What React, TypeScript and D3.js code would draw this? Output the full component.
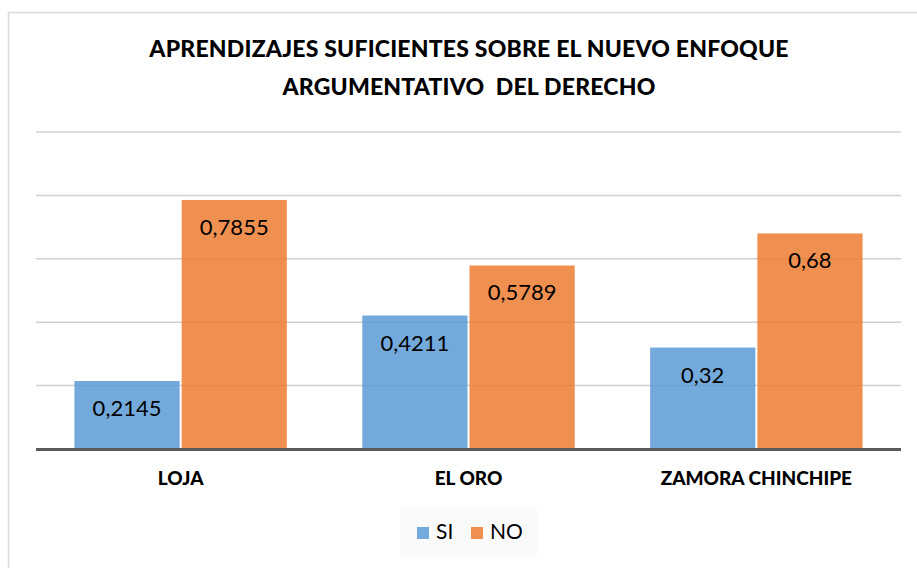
import React, { useEffect, useRef } from 'react';
import * as d3 from 'd3';

const categories = ['LOJA', 'EL ORO', 'ZAMORA CHINCHIPE'];
const seriesNames = ['SI', 'NO'];
const siValues = [0.2145, 0.4211, 0.32];
const noValues = [0.7855, 0.5789, 0.68];
const valueLabels = [
  ['0,2145', '0,7855'],
  ['0,4211', '0,5789'],
  ['0,32', '0,68'],
];
const yTicks = [0, 0.2, 0.4, 0.6, 0.8, 1];
const titleLines = ['APRENDIZAJES SUFICIENTES SOBRE EL NUEVO ENFOQUE', 'ARGUMENTATIVO  DEL DERECHO'];
const colors = ['#5B9BD5', '#ED7D31'];

const W = 917;
const H = 568;
const FONT = 'Lato, "Open Sans", sans-serif';

const App: React.FC = () => {
  const svgRef = useRef<SVGSVGElement>(null);

  useEffect(() => {
    if (!svgRef.current) return;
    const svg = d3.select(svgRef.current);
    svg.selectAll('*').remove();

    const margin = { top: 132, right: 16, bottom: 119, left: 36 };
    const innerWidth = W - margin.left - margin.right;
    const innerHeight = H - margin.top - margin.bottom;

    // chart frame (cropped on the right/bottom)
    svg.append('rect')
      .attr('x', 8.5).attr('y', 12.5)
      .attr('width', W + 20).attr('height', H + 20)
      .attr('fill', '#fff')
      .attr('stroke', '#d9d9d9')
      .attr('stroke-width', 1.5);

    // title
    const title = svg.append('text')
      .attr('text-anchor', 'middle')
      .style('font-family', FONT)
      .style('font-weight', 900)
      .style('font-size', '23px')
      .style('letter-spacing', '0.2px')
      .style('fill', '#000');
    titleLines.forEach((line, i) => {
      title.append('tspan')
        .attr('x', 469)
        .attr('y', 57 + i * 37.5)
        .attr('xml:space', 'preserve')
        .text(line);
    });

    const g = svg.append('g')
      .attr('transform', `translate(${margin.left},${margin.top})`);

    const x0 = d3.scaleBand<string>()
      .domain(categories)
      .range([0, innerWidth])
      .paddingInner(0.255)
      .paddingOuter(0.13);

    const x1 = d3.scaleBand<string>()
      .domain(seriesNames)
      .range([0, x0.bandwidth()])
      .padding(0);

    const y = d3.scaleLinear()
      .domain([0, 1])
      .range([innerHeight, 0]);

    // gridlines
    g.append('g')
      .selectAll('line')
      .data(yTicks.slice(1))
      .enter().append('line')
      .attr('x1', 0)
      .attr('x2', innerWidth)
      .attr('y1', d => y(d))
      .attr('y2', d => y(d))
      .attr('stroke', '#d0d0d0')
      .attr('stroke-width', 1.5);

    const rows = categories.map((c, i) => ({
      cat: c,
      vals: [siValues[i], noValues[i]],
      labels: valueLabels[i],
    }));

    const groups = g.selectAll('.grp')
      .data(rows)
      .enter().append('g')
      .attr('class', 'grp')
      .attr('transform', d => `translate(${x0(d.cat)},0)`);

    const bars = groups.selectAll('.bar')
      .data(d => d.vals.map((v, j) => ({ key: seriesNames[j], value: v, label: d.labels[j], j })))
      .enter();

    bars.append('rect')
      .attr('class', 'bar')
      .attr('x', d => x1(d.key)! + 1)
      .attr('y', d => y(d.value))
      .attr('width', x1.bandwidth() - 2)
      .attr('height', d => innerHeight - y(d.value))
      .attr('fill', d => colors[d.j])
      .attr('fill-opacity', 0.85);

    bars.append('text')
      .attr('x', d => x1(d.key)! + x1.bandwidth() / 2)
      .attr('y', d => y(d.value) + 35)
      .attr('text-anchor', 'middle')
      .style('font-family', FONT)
      .style('font-size', '22px')
      .style('fill', '#000')
      .text(d => d.label);

    // baseline axis
    g.append('line')
      .attr('x1', 0)
      .attr('x2', innerWidth)
      .attr('y1', innerHeight + 0.5)
      .attr('y2', innerHeight + 0.5)
      .attr('stroke', '#595959')
      .attr('stroke-width', 3);

    // category labels
    g.selectAll('.cat')
      .data(categories)
      .enter().append('text')
      .attr('class', 'cat')
      .attr('x', d => x0(d)! + x0.bandwidth() / 2)
      .attr('y', innerHeight + 36)
      .attr('text-anchor', 'middle')
      .style('font-family', FONT)
      .style('font-weight', 900)
      .style('font-size', '19px')
      .style('fill', '#000')
      .text(d => d);

    // legend
    const legend = svg.append('g');
    legend.append('rect')
      .attr('x', 400).attr('y', 508)
      .attr('width', 137).attr('height', 48)
      .attr('fill', '#fafafa');
    const legendX = [417, 471];
    seriesNames.forEach((s, i) => {
      legend.append('rect')
        .attr('x', legendX[i]).attr('y', 527)
        .attr('width', 12).attr('height', 12)
        .attr('fill', colors[i])
        .attr('fill-opacity', 0.85);
      legend.append('text')
        .attr('x', legendX[i] + 19)
        .attr('y', 539)
        .style('font-family', FONT)
        .style('font-size', '21px')
        .style('fill', '#000')
        .text(s);
    });
  }, []);

  return (
    <svg
      ref={svgRef}
      width={W}
      height={H}
      style={{ position: 'absolute', left: 0, top: 0, display: 'block', background: '#fff' }}
    />
  );
};

export default App;
